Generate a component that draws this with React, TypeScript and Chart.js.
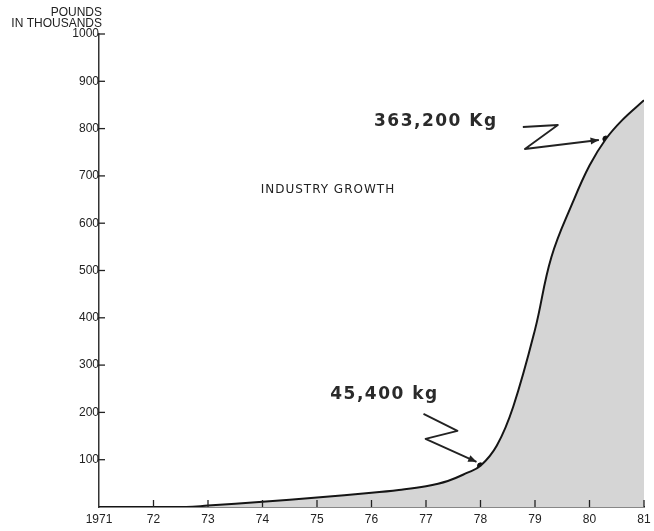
import React, { useEffect, useRef } from "react";
import { Chart, registerables } from "chart.js";

Chart.register(...registerables);

// Data (pounds, in thousands)
const years = [1971, 1972, 1972.6, 1973, 1974, 1975, 1976, 1976.5, 1977, 1977.4, 1977.75, 1978, 1978.3, 1978.6, 1979, 1979.3, 1979.7, 1980, 1980.3, 1980.6, 1981];
const pounds = [0, 0, 0, 3, 11, 20, 30, 36, 44, 55, 72, 87, 130, 212, 375, 528, 646, 722, 778, 818, 860];

const xTickYears = [1971, 1972, 1973, 1974, 1975, 1976, 1977, 1978, 1979, 1980, 1981];
const xTickLabels = ["1971", "72", "73", "74", "75", "76", "77", "78", "79", "80", "81"];
const yTickValues = [100, 200, 300, 400, 500, 600, 700, 800, 900, 1000];

const markYears = [1978, 1980.3];
const markValues = [87, 778];
const markLabels = ["45,400 kg", "363,200 Kg"];

const title = "INDUSTRY GROWTH";
const unitLines = ["POUNDS", "IN THOUSANDS"];

export default function App() {
  const ref = useRef<HTMLCanvasElement | null>(null);

  useEffect(() => {
    if (!ref.current) return;

    const decor = {
      id: "decor",
      afterDraw(chart: any) {
        const ctx = chart.ctx;
        const xs = chart.scales.x;
        const ys = chart.scales.y;
        const area = chart.chartArea;
        ctx.save();
        // tick marks
        ctx.strokeStyle = "#222";
        ctx.lineWidth = 1.3;
        yTickValues.forEach((v) => {
          const y = ys.getPixelForValue(v);
          ctx.beginPath();
          ctx.moveTo(area.left - 1, y);
          ctx.lineTo(area.left + 6, y);
          ctx.stroke();
        });
        xTickYears.slice(1).forEach((v) => {
          const x = xs.getPixelForValue(v);
          ctx.beginPath();
          ctx.moveTo(x, area.bottom);
          ctx.lineTo(x, area.bottom - 7);
          ctx.stroke();
        });
        // unit label
        ctx.fillStyle = "#222";
        ctx.font = "12px 'Liberation Sans', Arial, sans-serif";
        ctx.textAlign = "right";
        ctx.textBaseline = "middle";
        ctx.fillText(unitLines[0], area.left + 3, 13);
        ctx.fillText(unitLines[1], area.left + 3, 24);
        // title
        ctx.font = "12px 'DejaVu Sans', sans-serif";
        (ctx as any).letterSpacing = "1px";
        ctx.textAlign = "center";
        ctx.fillText(title, xs.getPixelForValue(1975.2), ys.getPixelForValue(670));
        (ctx as any).letterSpacing = "0px";

        // annotations
        const offsets = [
          { tx: -96, ty: -71, path: [[-57, -52], [-23, -35], [-55, -27], [-4, -4]] },
          { tx: -170, ty: -17, path: [[-83, -12], [-48, -14], [-81, 10], [-7, 1]] },
        ];
        markYears.forEach((yr, i) => {
          const px = xs.getPixelForValue(yr);
          const py = ys.getPixelForValue(markValues[i]);
          const o = offsets[i];
          ctx.font = "bold 17px 'DejaVu Sans', sans-serif";
          (ctx as any).letterSpacing = "1.5px";
          ctx.fillStyle = "#2a2a2a";
          ctx.textAlign = "center";
          ctx.textBaseline = "middle";
          ctx.fillText(markLabels[i], px + o.tx, py + o.ty);
          (ctx as any).letterSpacing = "0px";
          // squiggle arrow
          ctx.strokeStyle = "#222";
          ctx.lineWidth = 1.8;
          ctx.lineJoin = "round";
          ctx.beginPath();
          o.path.forEach((p, j) => {
            if (j === 0) ctx.moveTo(px + p[0], py + p[1]);
            else ctx.lineTo(px + p[0], py + p[1]);
          });
          ctx.stroke();
          const a = o.path[o.path.length - 1];
          const b = o.path[o.path.length - 2];
          const ang = Math.atan2(a[1] - b[1], a[0] - b[0]);
          const tipX = px + a[0];
          const tipY = py + a[1];
          ctx.fillStyle = "#222";
          ctx.beginPath();
          ctx.moveTo(tipX, tipY);
          ctx.lineTo(tipX - 9 * Math.cos(ang - 0.4), tipY - 9 * Math.sin(ang - 0.4));
          ctx.lineTo(tipX - 9 * Math.cos(ang + 0.4), tipY - 9 * Math.sin(ang + 0.4));
          ctx.closePath();
          ctx.fill();
        });
        ctx.restore();
      },
    };

    const chart = new Chart(ref.current, {
      type: "line",
      data: {
        datasets: [
          {
            data: years.map((x, i) => ({ x, y: pounds[i] })),
            borderColor: "#151515",
            borderWidth: 2,
            backgroundColor: "#d5d5d5",
            fill: "origin",
            pointRadius: 0,
            tension: 0.4,
          },
          {
            type: "scatter",
            data: markYears.map((x, i) => ({ x, y: markValues[i] })),
            pointRadius: 3,
            pointBackgroundColor: "#111",
            pointBorderColor: "#111",
          } as any,
        ],
      },
      options: {
        animation: false,
        responsive: false,
        devicePixelRatio: 1,
        layout: { padding: { top: 34, right: 10, left: 0, bottom: 0 } },
        plugins: { legend: { display: false }, tooltip: { enabled: false } },
        scales: {
          x: {
            type: "linear",
            min: 1971,
            max: 1981,
            afterFit: (s: any) => { s.height = 24; s.paddingLeft = 0; s.paddingRight = 0; },
            afterBuildTicks: (s: any) => { s.ticks = xTickYears.map((v) => ({ value: v })); },
            grid: { display: false, drawTicks: false, tickLength: 0 },
            border: { display: true, color: "#111", width: 1.5 },
            ticks: {
              padding: 5,
              maxRotation: 0,
              autoSkip: false,
              color: "#222",
              font: { family: "'Liberation Sans', Arial, sans-serif", size: 12 },
              callback: (v: any) => {
                const i = xTickYears.indexOf(Number(v));
                return i >= 0 ? xTickLabels[i] : "";
              },
            },
          },
          y: {
            min: 0,
            max: 1000,
            afterFit: (s: any) => { s.width = 99; s.paddingTop = 0; s.paddingBottom = 0; },
            afterBuildTicks: (s: any) => { s.ticks = yTickValues.map((v) => ({ value: v })); },
            grid: { display: false, drawTicks: false, tickLength: 0 },
            border: { display: true, color: "#333", width: 1.5 },
            ticks: {
              padding: 0,
              autoSkip: false,
              color: "#222",
              font: { family: "'Liberation Sans', Arial, sans-serif", size: 12 },
              callback: (v: any) => String(v),
            },
          },
        },
      },
      plugins: [decor],
    } as any);
    return () => chart.destroy();
  }, []);

  return (
    <div style={{ position: "absolute", left: 0, top: 0, width: 654, height: 531, background: "#fff" }}>
      <canvas ref={ref} width={654} height={531} style={{ display: "block" }} />
    </div>
  );
}
